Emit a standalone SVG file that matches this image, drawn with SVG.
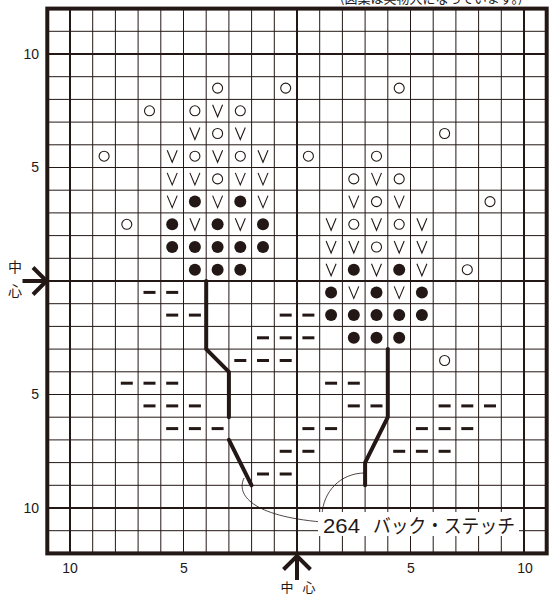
<svg xmlns="http://www.w3.org/2000/svg" xmlns:xlink="http://www.w3.org/1999/xlink" width="549" height="596" viewBox="0 0 549 596">
<style>
.g{stroke:#231815;stroke-width:1;fill:none}
.gt{stroke:#231815;stroke-width:2;fill:none}
.bd{stroke:#231815;stroke-width:4;fill:none}
.bs{stroke:#231815;stroke-width:4;fill:none;stroke-linecap:round;stroke-linejoin:round}
.ld{stroke:#231815;stroke-width:0.8;fill:none}
.ar{stroke:#231815;stroke-width:4;fill:none}
.n{font-family:"Liberation Sans",Arial,sans-serif;font-size:14px;fill:#231815}
.j{font-family:"Noto Sans CJK JP","Liberation Sans",sans-serif;fill:#231815}
</style>
<defs>
<circle id="o" r="5" fill="#fff" stroke="#231815" stroke-width="1.1"/>
<circle id="f" r="6" fill="#231815"/>
<path id="v" d="M-5,-6 L0,6 L5,-6" fill="none" stroke="#231815" stroke-width="1.1"/>
<rect id="d" x="-6" y="-1.5" width="12" height="3" fill="#231815"/>
</defs>
<rect width="549" height="596" fill="#fff"/>
<text class="j" x="340" y="2.5" font-size="13">(図案は実物大になっています。)</text>
<g id="grid">
<path class="g" d="M92.7,8.6V553.4M115.4,8.6V553.4M138.1,8.6V553.4M160.8,8.6V553.4M183.5,8.6V553.4M206.2,8.6V553.4M228.9,8.6V553.4M251.6,8.6V553.4M274.3,8.6V553.4M319.7,8.6V553.4M342.4,8.6V553.4M365.1,8.6V553.4M387.8,8.6V553.4M410.5,8.6V553.4M433.2,8.6V553.4M455.9,8.6V553.4M478.6,8.6V553.4M501.3,8.6V553.4"/>
<path class="g" d="M47.3,31.3H546.7M47.3,76.7H546.7M47.3,99.4H546.7M47.3,122.1H546.7M47.3,144.8H546.7M47.3,167.5H546.7M47.3,190.2H546.7M47.3,212.9H546.7M47.3,235.6H546.7M47.3,258.3H546.7M47.3,303.7H546.7M47.3,326.4H546.7M47.3,349.1H546.7M47.3,371.8H546.7M47.3,394.5H546.7M47.3,417.2H546.7M47.3,439.9H546.7M47.3,462.6H546.7M47.3,485.3H546.7M47.3,530.7H546.7"/>
<path class="gt" d="M70,8.6V553.4M297,8.6V553.4M524,8.6V553.4M47.3,54H546.7M47.3,281H546.7M47.3,508H546.7"/>
<rect class="bd" x="47.3" y="8.6" width="499.4" height="544.8"/>
</g>
<g id="open-circles">
<use xlink:href="#o" x="217.6" y="88.1"/><use xlink:href="#o" x="285.7" y="88.1"/><use xlink:href="#o" x="399.2" y="88.1"/>
<use xlink:href="#o" x="149.5" y="110.8"/><use xlink:href="#o" x="194.9" y="110.8"/><use xlink:href="#o" x="240.3" y="110.8"/>
<use xlink:href="#o" x="217.6" y="133.5"/><use xlink:href="#o" x="444.6" y="133.5"/>
<use xlink:href="#o" x="104.1" y="156.2"/><use xlink:href="#o" x="194.9" y="156.2"/><use xlink:href="#o" x="240.3" y="156.2"/><use xlink:href="#o" x="308.4" y="156.2"/><use xlink:href="#o" x="376.5" y="156.2"/>
<use xlink:href="#o" x="217.6" y="178.9"/><use xlink:href="#o" x="353.8" y="178.9"/><use xlink:href="#o" x="399.2" y="178.9"/>
<use xlink:href="#o" x="376.5" y="201.6"/><use xlink:href="#o" x="490" y="201.6"/>
<use xlink:href="#o" x="126.8" y="224.3"/><use xlink:href="#o" x="353.8" y="224.3"/><use xlink:href="#o" x="399.2" y="224.3"/>
<use xlink:href="#o" x="376.5" y="247"/>
<use xlink:href="#o" x="467.3" y="269.7"/>
<use xlink:href="#o" x="444.6" y="360.5"/>
</g>
<g id="v-marks">
<use xlink:href="#v" x="217.6" y="110.8"/>
<use xlink:href="#v" x="194.9" y="133.5"/><use xlink:href="#v" x="240.3" y="133.5"/>
<use xlink:href="#v" x="172.2" y="156.2"/><use xlink:href="#v" x="217.6" y="156.2"/><use xlink:href="#v" x="263" y="156.2"/>
<use xlink:href="#v" x="172.2" y="178.9"/><use xlink:href="#v" x="194.9" y="178.9"/><use xlink:href="#v" x="240.3" y="178.9"/><use xlink:href="#v" x="263" y="178.9"/><use xlink:href="#v" x="376.5" y="178.9"/>
<use xlink:href="#v" x="172.2" y="201.6"/><use xlink:href="#v" x="217.6" y="201.6"/><use xlink:href="#v" x="263" y="201.6"/><use xlink:href="#v" x="353.8" y="201.6"/><use xlink:href="#v" x="399.2" y="201.6"/>
<use xlink:href="#v" x="194.9" y="224.3"/><use xlink:href="#v" x="240.3" y="224.3"/><use xlink:href="#v" x="331.1" y="224.3"/><use xlink:href="#v" x="376.5" y="224.3"/><use xlink:href="#v" x="421.9" y="224.3"/>
<use xlink:href="#v" x="331.1" y="247"/><use xlink:href="#v" x="353.8" y="247"/><use xlink:href="#v" x="399.2" y="247"/><use xlink:href="#v" x="421.9" y="247"/>
<use xlink:href="#v" x="331.1" y="269.7"/><use xlink:href="#v" x="376.5" y="269.7"/><use xlink:href="#v" x="421.9" y="269.7"/>
<use xlink:href="#v" x="353.8" y="292.4"/><use xlink:href="#v" x="399.2" y="292.4"/>
</g>
<g id="filled-circles">
<use xlink:href="#f" x="194.9" y="201.6"/><use xlink:href="#f" x="240.3" y="201.6"/>
<use xlink:href="#f" x="172.2" y="224.3"/><use xlink:href="#f" x="217.6" y="224.3"/><use xlink:href="#f" x="263" y="224.3"/>
<use xlink:href="#f" x="172.2" y="247"/><use xlink:href="#f" x="194.9" y="247"/><use xlink:href="#f" x="217.6" y="247"/><use xlink:href="#f" x="240.3" y="247"/><use xlink:href="#f" x="263" y="247"/>
<use xlink:href="#f" x="194.9" y="269.7"/><use xlink:href="#f" x="217.6" y="269.7"/><use xlink:href="#f" x="240.3" y="269.7"/><use xlink:href="#f" x="353.8" y="269.7"/><use xlink:href="#f" x="399.2" y="269.7"/>
<use xlink:href="#f" x="331.1" y="292.4"/><use xlink:href="#f" x="376.5" y="292.4"/><use xlink:href="#f" x="421.9" y="292.4"/>
<use xlink:href="#f" x="331.1" y="315.1"/><use xlink:href="#f" x="353.8" y="315.1"/><use xlink:href="#f" x="376.5" y="315.1"/><use xlink:href="#f" x="399.2" y="315.1"/><use xlink:href="#f" x="421.9" y="315.1"/>
<use xlink:href="#f" x="353.8" y="337.8"/><use xlink:href="#f" x="376.5" y="337.8"/><use xlink:href="#f" x="399.2" y="337.8"/>
</g>
<g id="dashes">
<use xlink:href="#d" x="149.5" y="292.4"/><use xlink:href="#d" x="172.2" y="292.4"/>
<use xlink:href="#d" x="172.2" y="315.1"/><use xlink:href="#d" x="194.9" y="315.1"/><use xlink:href="#d" x="285.7" y="315.1"/><use xlink:href="#d" x="308.4" y="315.1"/>
<use xlink:href="#d" x="263" y="337.8"/><use xlink:href="#d" x="285.7" y="337.8"/><use xlink:href="#d" x="308.4" y="337.8"/>
<use xlink:href="#d" x="240.3" y="360.5"/><use xlink:href="#d" x="263" y="360.5"/><use xlink:href="#d" x="285.7" y="360.5"/>
<use xlink:href="#d" x="126.8" y="383.2"/><use xlink:href="#d" x="149.5" y="383.2"/><use xlink:href="#d" x="172.2" y="383.2"/><use xlink:href="#d" x="331.1" y="383.2"/><use xlink:href="#d" x="353.8" y="383.2"/>
<use xlink:href="#d" x="149.5" y="405.9"/><use xlink:href="#d" x="172.2" y="405.9"/><use xlink:href="#d" x="194.9" y="405.9"/><use xlink:href="#d" x="353.8" y="405.9"/><use xlink:href="#d" x="376.5" y="405.9"/><use xlink:href="#d" x="444.6" y="405.9"/><use xlink:href="#d" x="467.3" y="405.9"/><use xlink:href="#d" x="490" y="405.9"/>
<use xlink:href="#d" x="172.2" y="428.6"/><use xlink:href="#d" x="194.9" y="428.6"/><use xlink:href="#d" x="217.6" y="428.6"/><use xlink:href="#d" x="308.4" y="428.6"/><use xlink:href="#d" x="331.1" y="428.6"/><use xlink:href="#d" x="421.9" y="428.6"/><use xlink:href="#d" x="444.6" y="428.6"/><use xlink:href="#d" x="467.3" y="428.6"/>
<use xlink:href="#d" x="285.7" y="451.3"/><use xlink:href="#d" x="308.4" y="451.3"/><use xlink:href="#d" x="399.2" y="451.3"/><use xlink:href="#d" x="421.9" y="451.3"/><use xlink:href="#d" x="444.6" y="451.3"/>
<use xlink:href="#d" x="263" y="474"/><use xlink:href="#d" x="285.7" y="474"/>
</g>
<g id="connectors">
<path class="bs" d="M206.2,281V349.1L228.9,371.8V417.2"/>
<path class="bs" d="M228.9,439.9L251.6,485.3"/>
<path class="bs" d="M387.8,349.1V417.2L365.1,462.6V485.3"/>
<path class="ld" d="M244,478C236,495 252,516 322,522"/>
<path class="ld" d="M365,473C340,473 323,492 322,515"/>
</g>
<g id="label">
<rect x="318" y="512" width="201" height="24" fill="#fff"/>
<text class="j" x="323" y="532.5"><tspan font-family="Liberation Sans, Arial, sans-serif" font-size="21" textLength="37" lengthAdjust="spacingAndGlyphs">264</tspan><tspan x="373" font-size="19" textLength="142" lengthAdjust="spacingAndGlyphs">バック・ステッチ</tspan></text>
</g>
<g id="axes">
<text class="n" x="39" y="59" text-anchor="end">10</text>
<text class="n" x="39" y="172" text-anchor="end">5</text>
<text class="n" x="39" y="399" text-anchor="end">5</text>
<text class="n" x="39" y="513" text-anchor="end">10</text>
<text class="n" x="70" y="573" text-anchor="middle">10</text>
<text class="n" x="184" y="573" text-anchor="middle">5</text>
<text class="n" x="411" y="573" text-anchor="middle">5</text>
<text class="n" x="525" y="573" text-anchor="middle">10</text>
<text class="j" x="15" y="272" font-size="14" text-anchor="middle">中</text>
<text class="j" x="15" y="296" font-size="14" text-anchor="middle">心</text>
<text class="j" x="287" y="592" font-size="13" text-anchor="middle">中</text>
<text class="j" x="309" y="592" font-size="13" text-anchor="middle">心</text>
<path class="ar" d="M22.5,281H46M33,267.5L46.5,281L33,294.5"/>
<path class="ar" d="M297,556V580M283.5,569.5L297,556L310.5,569.5"/>
</g>
</svg>
